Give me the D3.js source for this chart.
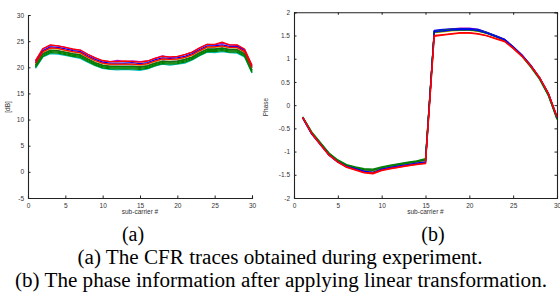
<!DOCTYPE html>
<html><head><meta charset="utf-8">
<script src="https://cdn.jsdelivr.net/npm/d3@7"></script>
<style>body{margin:0;background:#fff}svg{display:block}</style>
</head><body>
<svg id="c" width="560" height="293"></svg>
<script>
const subcarriers = d3.range(1, 31);
const xTicks = [0,5,10,15,20,25,30];
const ampTicks = [-5,0,5,10,15,20,25,30];
const phaseTicks = [-2,-1.5,-1,-0.5,0,0.5,1,1.5,2];
const traceColors = ["#00bfbf","#bf00bf","#bfbf00","#0000ff","#404040","#008000","#008000","#008000","#ff0000","#ff0000"];
const ampCyan = [19.8,22.0,22.6,22.5,22.3,22.0,21.7,21.0,20.3,19.8,19.6,19.5,19.6,19.5,19.4,19.7,20.2,20.6,20.4,20.6,20.8,21.4,22.2,22.9,22.8,23.0,22.8,22.7,22.0,18.9];
const ampMagenta = [21.2,23.5,24.2,24.1,23.8,23.4,23.3,22.5,21.8,21.2,21.1,21.3,21.1,21.2,21.1,21.2,21.7,22.2,21.9,22.0,22.4,22.9,23.7,24.4,24.3,24.6,24.3,24.2,23.4,20.3];
const ampYellow = [20.7,22.9,23.6,23.5,23.2,22.9,22.7,21.9,21.2,20.7,20.5,20.5,20.6,20.5,20.4,20.6,21.1,21.5,21.4,21.5,21.8,22.3,23.1,23.8,23.8,24.0,23.7,23.7,22.9,19.8];
const ampBlue = [20.9,23.2,23.9,23.8,23.5,23.2,23.0,22.2,21.5,21.0,20.8,20.8,20.8,20.9,20.7,20.9,21.4,21.8,21.7,21.8,22.1,22.6,23.4,24.1,24.1,24.3,24.0,24.0,23.2,20.1];
const ampBlack = [20.4,22.6,23.3,23.2,22.9,22.6,22.4,21.6,20.9,20.4,20.2,20.2,20.2,20.2,20.1,20.3,20.8,21.2,21.1,21.2,21.5,22.0,22.8,23.5,23.5,23.7,23.4,23.4,22.6,19.5];
const ampGreen1 = [20.1,22.3,23.0,22.9,22.6,22.3,22.1,21.3,20.6,20.1,19.9,19.9,19.9,19.9,19.8,20.0,20.5,20.9,20.8,20.9,21.2,21.7,22.5,23.2,23.2,23.4,23.1,23.1,22.3,19.2];
const ampGreen2 = [20.0,22.1,22.8,22.7,22.4,22.1,21.9,21.1,20.4,19.9,19.7,19.7,19.7,19.7,19.6,19.8,20.3,20.7,20.6,20.7,21.0,21.5,22.3,23.0,23.0,23.2,22.9,22.9,22.1,19.0];
const ampGreen3 = [20.3,22.5,23.2,23.1,22.8,22.5,22.3,21.5,20.8,20.3,20.1,20.1,20.1,20.1,20.0,20.2,20.7,21.1,21.0,21.1,21.4,21.9,22.7,23.4,23.4,23.6,23.3,23.3,22.5,19.4];
const ampRed1 = [21.3,23.6,24.3,24.1,23.8,23.5,23.3,22.5,21.8,21.3,21.1,21.1,21.2,21.1,21.0,21.2,21.7,22.1,22.0,22.1,22.4,22.9,23.7,24.4,24.4,24.8,24.3,24.3,23.5,20.4];
const ampRed2 = [20.8,23.0,23.7,23.6,23.3,23.0,22.8,22.0,21.3,20.8,20.6,20.6,20.6,20.6,20.5,20.7,21.2,21.6,21.5,21.6,21.9,22.4,23.2,23.9,23.9,24.1,23.8,23.8,23.0,19.9];
const phCyan = [-0.26,-0.58,-0.81,-1.04,-1.19,-1.29,-1.36,-1.41,-1.44,-1.38,-1.34,-1.31,-1.28,-1.25,-1.22,1.58,1.61,1.63,1.64,1.64,1.62,1.56,1.49,1.41,1.25,1.07,0.84,0.58,0.23,-0.29];
const phMagenta = [-0.28,-0.61,-0.84,-1.07,-1.22,-1.32,-1.37,-1.41,-1.41,-1.35,-1.31,-1.27,-1.24,-1.21,-1.17,1.60,1.62,1.64,1.66,1.66,1.63,1.57,1.49,1.42,1.26,1.08,0.86,0.59,0.25,-0.26];
const phYellow = [-0.27,-0.60,-0.83,-1.06,-1.21,-1.31,-1.36,-1.40,-1.42,-1.36,-1.32,-1.29,-1.26,-1.23,-1.19,1.56,1.58,1.60,1.61,1.61,1.59,1.54,1.47,1.40,1.24,1.06,0.84,0.58,0.24,-0.27];
const phBlue = [-0.28,-0.62,-0.85,-1.08,-1.23,-1.33,-1.38,-1.43,-1.47,-1.39,-1.35,-1.32,-1.29,-1.26,-1.24,1.61,1.63,1.64,1.65,1.65,1.63,1.57,1.50,1.42,1.26,1.08,0.86,0.60,0.26,-0.25];
const phBlack = [-0.26,-0.59,-0.82,-1.05,-1.20,-1.30,-1.34,-1.39,-1.40,-1.35,-1.31,-1.28,-1.25,-1.22,-1.18,1.57,1.59,1.61,1.62,1.62,1.60,1.55,1.48,1.41,1.25,1.07,0.85,0.59,0.25,-0.26];
const phGreen1 = [-0.25,-0.57,-0.80,-1.03,-1.18,-1.28,-1.33,-1.37,-1.38,-1.33,-1.29,-1.26,-1.23,-1.20,-1.15,1.59,1.61,1.63,1.63,1.63,1.61,1.56,1.48,1.40,1.23,1.05,0.82,0.56,0.21,-0.31];
const phGreen2 = [-0.27,-0.59,-0.82,-1.05,-1.20,-1.30,-1.35,-1.39,-1.40,-1.35,-1.31,-1.28,-1.25,-1.21,-1.17,1.58,1.60,1.62,1.62,1.62,1.60,1.55,1.48,1.40,1.24,1.06,0.83,0.57,0.22,-0.29];
const phBlue2 = [-0.27,-0.61,-0.84,-1.07,-1.22,-1.32,-1.37,-1.42,-1.45,-1.38,-1.34,-1.31,-1.28,-1.25,-1.22,1.59,1.60,1.62,1.63,1.63,1.61,1.55,1.48,1.41,1.25,1.07,0.85,0.59,0.25,-0.27];
const phRed1 = [-0.26,-0.60,-0.84,-1.07,-1.22,-1.33,-1.39,-1.45,-1.46,-1.40,-1.36,-1.33,-1.30,-1.27,-1.25,1.48,1.51,1.53,1.55,1.55,1.53,1.49,1.43,1.37,1.22,1.05,0.84,0.59,0.25,-0.26];
const phRed2 = [-0.27,-0.61,-0.85,-1.08,-1.23,-1.34,-1.40,-1.46,-1.48,-1.41,-1.37,-1.34,-1.31,-1.28,-1.26,1.50,1.52,1.54,1.56,1.56,1.54,1.50,1.44,1.38,1.23,1.06,0.85,0.60,0.26,-0.25];
const phaseColors = ["#00bfbf","#bf00bf","#bfbf00","#0000ff","#404040","#008000","#008000","#0000ff","#ff0000","#ff0000"];

const ampTraces = [ampCyan,ampMagenta,ampYellow,ampBlue,ampBlack,ampGreen1,ampGreen2,ampGreen3,ampRed1,ampRed2];
const phaseTraces = [phCyan,phMagenta,phYellow,phBlue,phBlack,phGreen1,phGreen2,phBlue2,phRed1,phRed2];

const svg = d3.select("#c");
const tickFont = "Arial, 'Liberation Sans', sans-serif";

function panel(opts){
  const x = d3.scaleLinear().domain([0,30]).range(opts.xr);
  const y = d3.scaleLinear().domain(opts.yd).range(opts.yr);
  const g = svg.append("g");
  const line = d3.line().x((d,i)=>x(subcarriers[i])).y(d=>y(d));
  opts.traces.forEach((t,k)=>{
    g.append("path").attr("d", line(t)).attr("fill","none")
      .attr("stroke", opts.colors[k]).attr("stroke-width",1.3).attr("stroke-linejoin","round");
  });
  const ax = g.append("g").attr("transform",`translate(0,${opts.yr[0]})`)
    .call(d3.axisBottom(x).tickValues(xTicks).tickSize(-2.5).tickPadding(5).tickFormat(d3.format("d")));
  const ay = g.append("g").attr("transform",`translate(${opts.xr[0]},0)`)
    .call(d3.axisLeft(y).tickValues(opts.yt).tickSize(-2.5).tickPadding(4).tickFormat(d=>String(d)));
  [ax,ay].forEach(a=>{
    a.select(".domain").attr("stroke","#222").attr("stroke-width",1.1);
    a.selectAll(".tick line").attr("stroke","#222");
    a.selectAll("text").attr("font-family",tickFont).attr("font-size",6.5).attr("fill","#333");
  });
  if(opts.box){
    const at = g.append("g").attr("transform",`translate(0,${opts.yr[1]})`)
      .call(d3.axisTop(x).tickValues(xTicks).tickSize(-2.5).tickFormat(""));
    const ar = g.append("g").attr("transform",`translate(${opts.xr[1]},0)`)
      .call(d3.axisRight(y).tickValues(opts.yt).tickSize(-2.5).tickFormat(""));
    [at,ar].forEach(a=>{
      a.select(".domain").attr("stroke","#222").attr("stroke-width",1.1);
      a.selectAll(".tick line").attr("stroke","#222");
    });
  }
  g.append("text").attr("x",(opts.xr[0]+opts.xr[1])/2).attr("y",214)
    .attr("text-anchor","middle").attr("font-family",tickFont).attr("font-size",6.5).attr("fill","#333")
    .text("sub-carrier #");
  g.append("text").attr("transform",`translate(${opts.ylx},107) rotate(-90)`)
    .attr("text-anchor","middle").attr("font-family",tickFont).attr("font-size",6.5).attr("fill","#333")
    .text(opts.ylabel);
}

panel({xr:[28,252], yd:[-5,30], yr:[198,15], yt:ampTicks, traces:ampTraces, colors:traceColors, box:false, ylabel:"[dB]", ylx:10});
panel({xr:[294,557], yd:[-2,2], yr:[198,12.3], yt:phaseTicks, traces:phaseTraces, colors:phaseColors, box:true, ylabel:"Phase", ylx:268});

const serif = "'Liberation Serif','Times New Roman',serif";
const caps = [
  {x:133,y:241,t:"(a)",w:null},
  {x:433,y:241,t:"(b)",w:null},
  {x:280,y:264,t:"(a) The CFR traces obtained during experiment.",w:405},
  {x:281,y:287,t:"(b) The phase information after applying linear transformation.",w:532}
];
const capSel = svg.selectAll("text.cap").data(caps).enter().append("text").attr("class","cap")
  .attr("x",d=>d.x).attr("y",d=>d.y).attr("text-anchor","middle")
  .attr("font-family",serif).attr("font-size",20).attr("fill","#000").text(d=>d.t);
capSel.filter(d=>d.w).attr("textLength",d=>d.w).attr("lengthAdjust","spacingAndGlyphs");
</script>
</body></html>
